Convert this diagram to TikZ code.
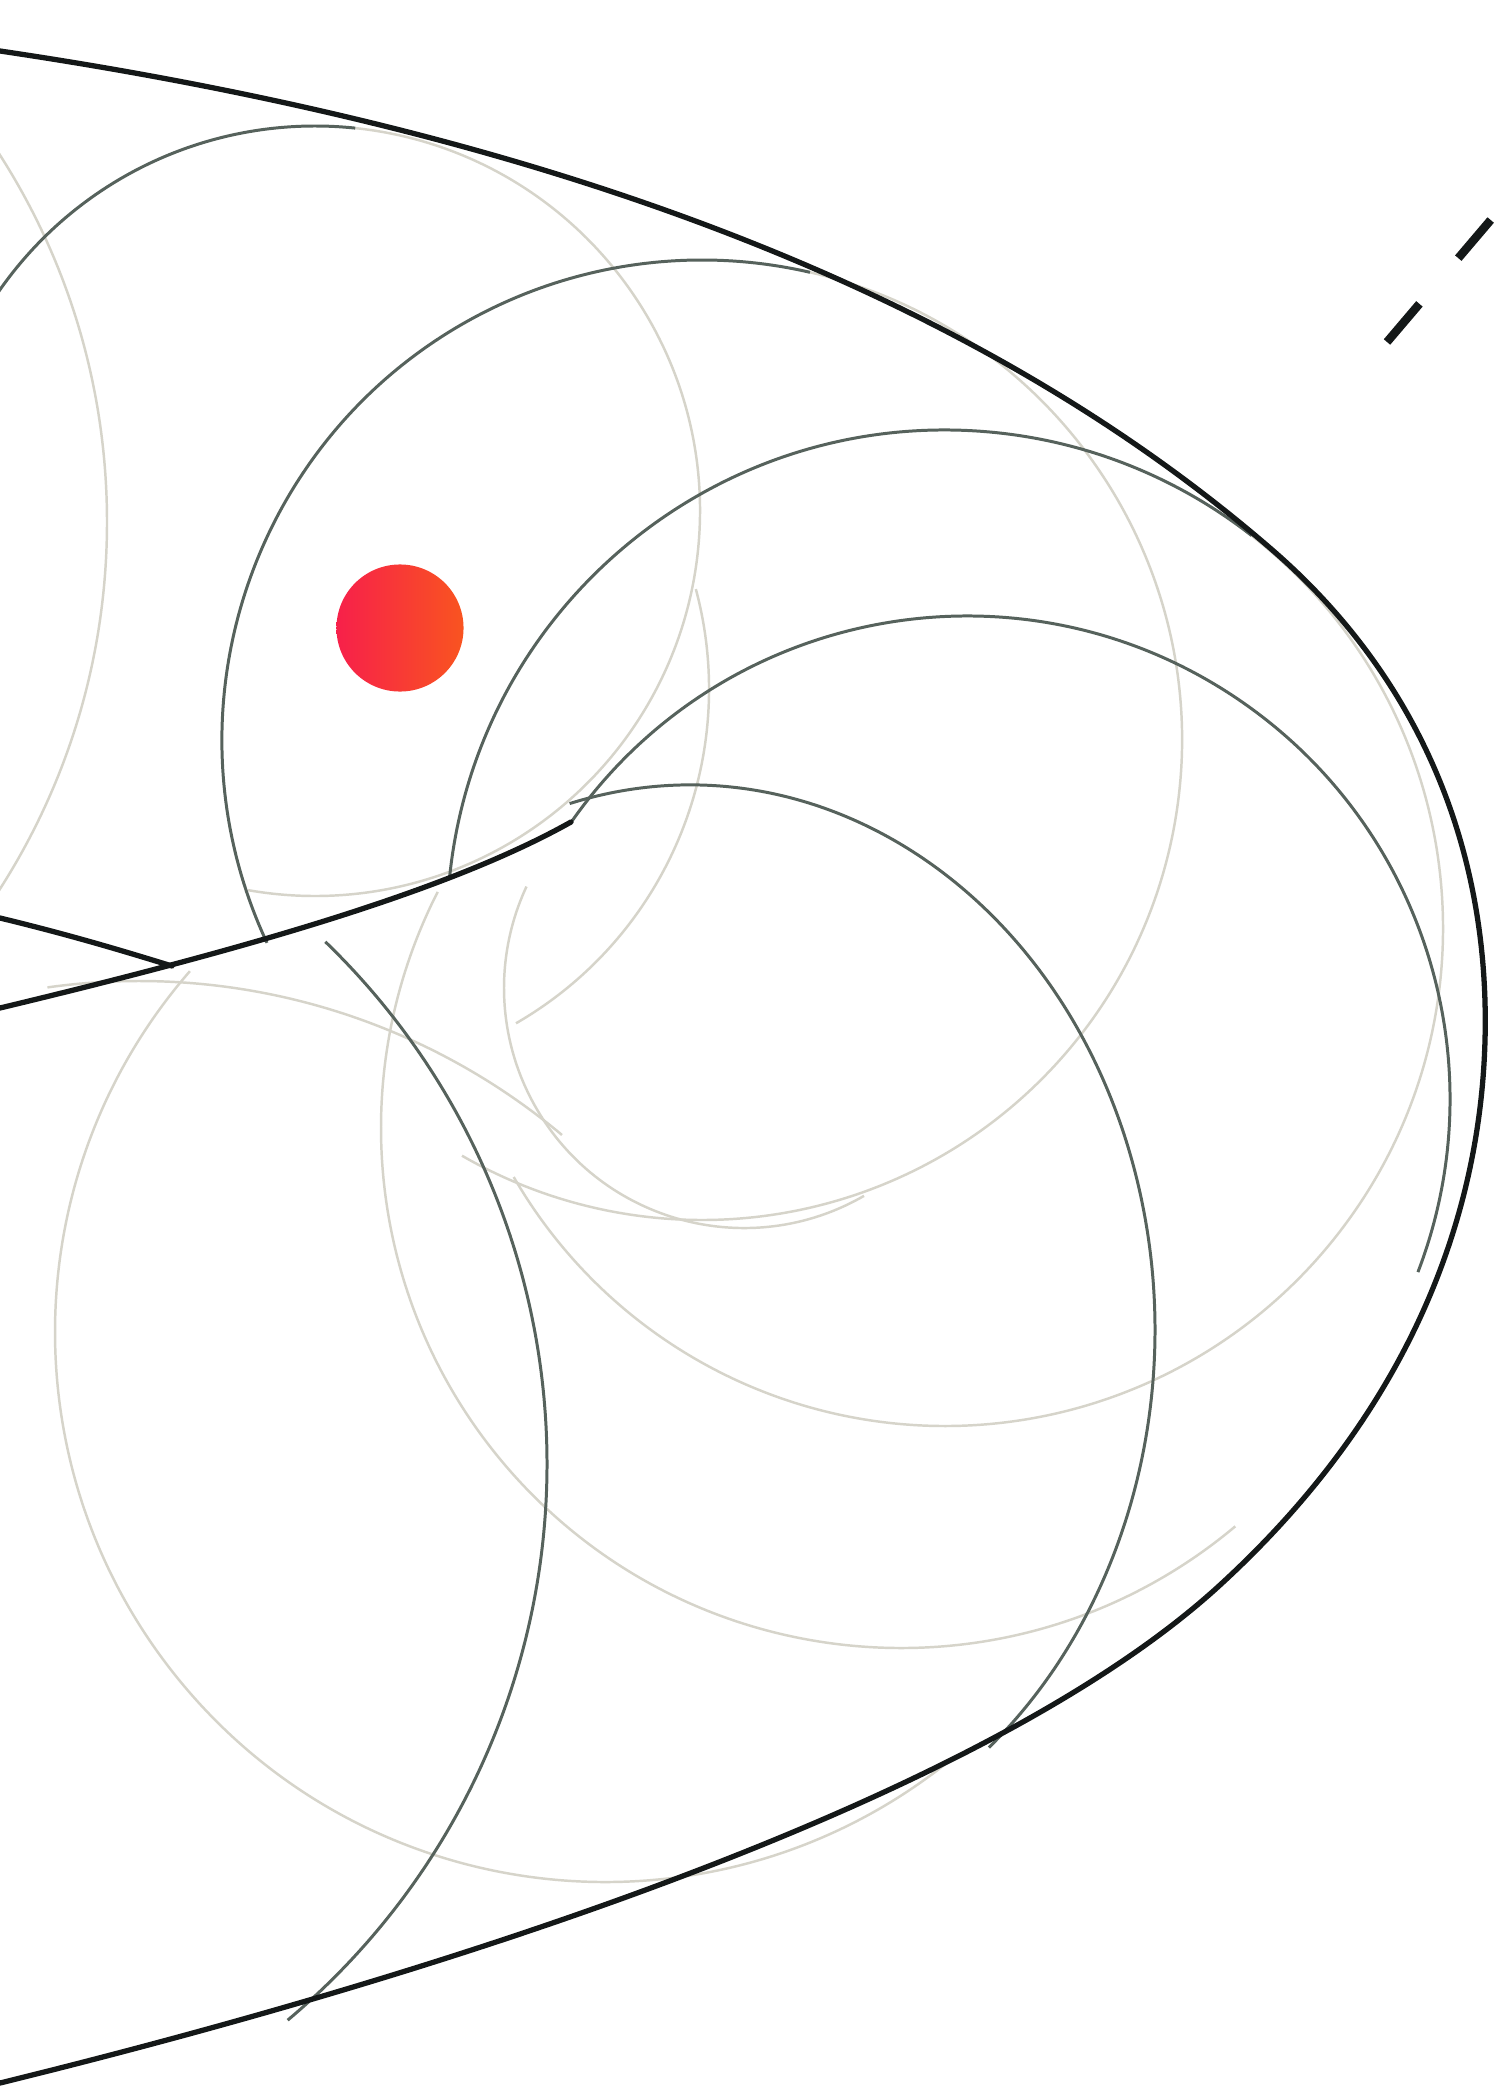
\documentclass[tikz,border=0pt]{standalone}
\usepackage{tikz}
\definecolor{ink}{HTML}{141818}
\definecolor{wavegrey}{HTML}{56625C}
\definecolor{wavelight}{HTML}{D6D4CA}
\definecolor{srcred}{HTML}{F7204A}
\definecolor{srcorange}{HTML}{F95420}

\begin{document}
\begin{tikzpicture}[x=0.01cm,y=-0.01cm,
    envelope/.style={ink,line width=1.5pt,line join=round,line cap=round},
    wave/.style={wavegrey,line width=0.85pt},
    faint/.style={wavelight,line width=0.7pt},
    dashline/.style={ink,line width=2.4pt,dash pattern=on 5mm off 6mm}]
  \useasboundingbox (0,0) rectangle (1495,2088);
  \fill[white] (0,0) rectangle (1495,2088);

  \draw[faint] (-575,522) circle[radius=682];
  \draw[faint] (315,511) ++(276:385) arc[start angle=276, end angle=460, radius=385];
  \draw[faint] (323,689) ++(-15:386) arc[start angle=-15, end angle=60, radius=386];
  \draw[faint] (702,740) ++(283:480) arc[start angle=283, end angle=480, radius=480];
  \draw[faint] (945,928) ++(308:498) arc[start angle=308, end angle=510, radius=498];
  \draw[faint] (901,1128) ++(50:520) arc[start angle=50, end angle=207, radius=520];
  \draw[faint] (744,988) ++(60:240) arc[start angle=60, end angle=205, radius=240];
  \draw[faint] (605,1332) ++(51:550) arc[start angle=51, end angle=221, radius=550];
  \draw[faint] (139,1639) ++(262:658) arc[start angle=262, end angle=310, radius=658];

  \draw[wave] (315,511) ++(180:385) arc[start angle=180, end angle=276, radius=385];
  \draw[wave] (702,740) ++(155:480) arc[start angle=155, end angle=283, radius=480];
  \draw[wave] (945,928) ++(186:498) arc[start angle=186, end angle=308, radius=498];
  \draw[wave] (967,1099) ++(215:483) arc[start angle=215, end angle=381, radius=483];
  \draw[wave] (690,1330) ++(255:465 and 545) arc[start angle=255, end angle=410, x radius=465, y radius=545];
  \draw[wave] (-179,1464) ++(314:726) arc[start angle=314, end angle=410, radius=726];

  \draw[envelope] (0,51) .. controls (600,140) and (1000,315) .. (1270,548)
    .. controls (1420,677) and (1490,850) .. (1485,1040)
    .. controls (1480,1230) and (1400,1420) .. (1220,1585)
    .. controls (1000,1787) and (500,1960) .. (0,2083);
  \draw[envelope] (0,918) .. controls (70,935) and (120,950) .. (172,966);
  \draw[envelope] (0,1008) .. controls (250,948) and (450,890) .. (571,822);

  \node[circle,inner sep=0pt,minimum size=1.27cm,left color=srcred,right color=srcorange] (src) at (400,628) {};

  \coordinate (rayA) at (1387,342);
  \coordinate (rayB) at (1540,162);
  \draw[dashline] (rayA) -- (rayB);
\end{tikzpicture}
\end{document}
